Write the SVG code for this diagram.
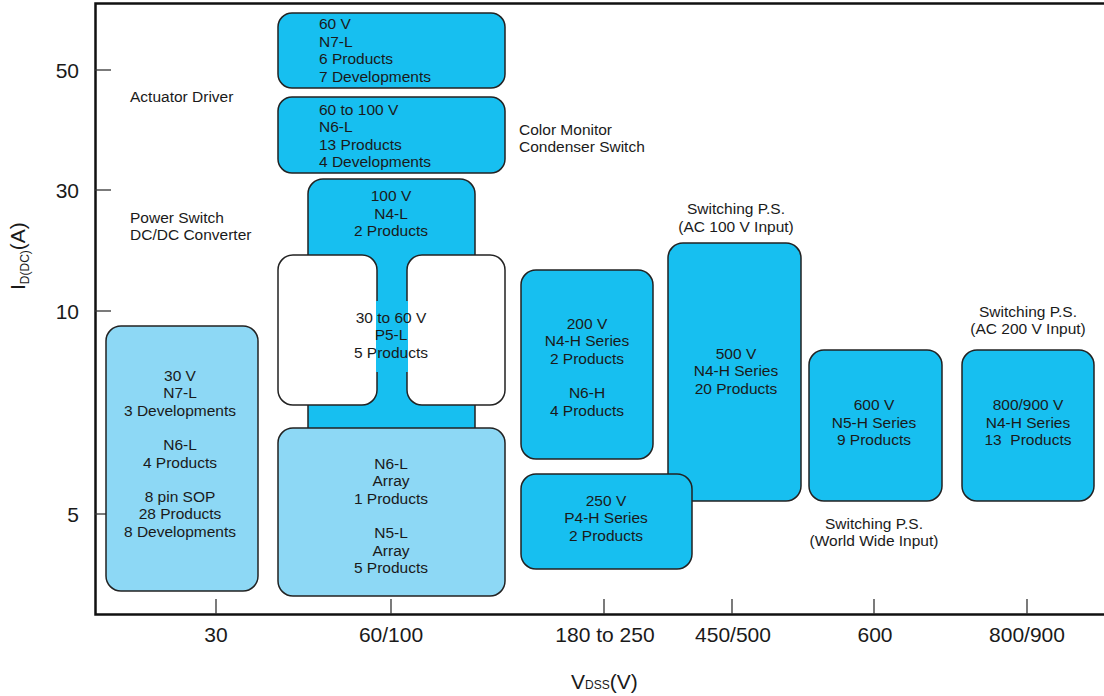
<svg xmlns="http://www.w3.org/2000/svg" width="1104" height="696" viewBox="0 0 1104 696">
<style>
text{font-family:"Liberation Sans",Arial,sans-serif;fill:#1a1a1a}
.t{font-size:15.5px}
.c{text-anchor:middle}
.ax{font-size:21px;text-anchor:middle}
.ay{font-size:21px;text-anchor:end}
.box{stroke:#222;stroke-width:1.5}
.cy{fill:#17bff0}
.lb{fill:#8dd8f5}
.wh{fill:#fff}
.frame{stroke:#111;stroke-width:2.5;fill:none}
.tick{stroke:#333;stroke-width:1.3}
</style>
<rect width="1104" height="696" fill="#fff"/>
<g id="axes">
<polyline class="frame" points="1104,3.5 95.5,3.5 95.5,614.5 1104,614.5"/>
<line class="tick" x1="95" y1="70" x2="111" y2="70"/>
<line class="tick" x1="95" y1="190" x2="111" y2="190"/>
<line class="tick" x1="95" y1="311" x2="111" y2="311"/>
<line class="tick" x1="95" y1="514" x2="111" y2="514"/>
<line class="tick" x1="216" y1="599" x2="216" y2="614"/>
<line class="tick" x1="391" y1="599" x2="391" y2="614"/>
<line class="tick" x1="604" y1="599" x2="604" y2="614"/>
<line class="tick" x1="732" y1="599" x2="732" y2="614"/>
<line class="tick" x1="874" y1="599" x2="874" y2="614"/>
<line class="tick" x1="1027" y1="599" x2="1027" y2="614"/>
<text class="ay" x="79" y="78">50</text>
<text class="ay" x="79" y="198">30</text>
<text class="ay" x="79" y="319">10</text>
<text class="ay" x="79" y="522">5</text>
<text class="ax" x="216" y="642">30</text>
<text class="ax" x="391" y="642">60/100</text>
<text class="ax" x="605" y="642">180 to 250</text>
<text class="ax" x="733" y="642">450/500</text>
<text class="ax" x="875" y="642">600</text>
<text class="ax" x="1027" y="642">800/900</text>
<text x="571" y="689" style="font-size:21px">V<tspan style="font-size:12px">DSS</tspan>(V)</text>
<text transform="translate(25,290) rotate(-90)" style="font-size:21px">I<tspan dy="4" style="font-size:12px">D(DC)</tspan><tspan dy="-4">(A)</tspan></text>
</g>
<g id="labels" class="t">
<text x="130" y="101.7">Actuator Driver</text>
<text x="130" y="222.5">Power Switch</text>
<text x="130" y="240">DC/DC Converter</text>
<text x="519" y="134.5">Color Monitor</text>
<text x="519" y="152">Condenser Switch</text>
<text class="c" x="736" y="214">Switching P.S.</text>
<text class="c" x="736" y="231.5">(AC 100 V Input)</text>
<text class="c" x="1028" y="316.5">Switching P.S.</text>
<text class="c" x="1028" y="334">(AC 200 V Input)</text>
<text class="c" x="874" y="528.7">Switching P.S.</text>
<text class="c" x="874" y="546">(World Wide Input)</text>
</g>
<g id="n4l">
<rect class="box cy" x="308" y="179" width="167" height="270" rx="15"/>
<text class="t c" x="391" y="201">100 V</text>
<text class="t c" x="391" y="218.5">N4-L</text>
<text class="t c" x="391" y="236">2 Products</text>
</g>
<g id="p5l">
<rect class="box wh" x="278" y="255" width="99" height="150" rx="15"/>
<rect class="box wh" x="407" y="255" width="98" height="150" rx="15"/>
<rect class="cy" x="376" y="301" width="32" height="71"/>
<text class="t c" x="391" y="322.5">30 to 60 V</text>
<text class="t c" x="391" y="340">P5-L</text>
<text class="t c" x="391" y="357.5">5 Products</text>
</g>
<g id="n6l-array">
<rect class="box lb" x="278" y="428" width="227" height="168" rx="15"/>
<text class="t c" x="391" y="468.5">N6-L</text>
<text class="t c" x="391" y="486">Array</text>
<text class="t c" x="391" y="503.5">1 Products</text>
<text class="t c" x="391" y="538">N5-L</text>
<text class="t c" x="391" y="555.5">Array</text>
<text class="t c" x="391" y="573">5 Products</text>
</g>
<g id="n7l-60">
<rect class="box cy" x="278" y="13" width="227" height="75" rx="14"/>
<text class="t" x="319" y="29">60 V</text>
<text class="t" x="319" y="46.5">N7-L</text>
<text class="t" x="319" y="64">6 Products</text>
<text class="t" x="319" y="81.5">7 Developments</text>
</g>
<g id="n6l-60-100">
<rect class="box cy" x="278" y="97" width="227" height="76" rx="14"/>
<text class="t" x="319" y="114.5">60 to 100 V</text>
<text class="t" x="319" y="132">N6-L</text>
<text class="t" x="319" y="149.5">13 Products</text>
<text class="t" x="319" y="167">4 Developments</text>
</g>
<g id="v30">
<rect class="box lb" x="106" y="326" width="152" height="265" rx="15"/>
<text class="t c" x="180" y="381">30 V</text>
<text class="t c" x="180" y="398.3">N7-L</text>
<text class="t c" x="180" y="415.6">3 Developments</text>
<text class="t c" x="180" y="450.2">N6-L</text>
<text class="t c" x="180" y="467.5">4 Products</text>
<text class="t c" x="180" y="502.1">8 pin SOP</text>
<text class="t c" x="180" y="519.4">28 Products</text>
<text class="t c" x="180" y="536.7">8 Developments</text>
</g>
<g id="v200">
<rect class="box cy" x="521" y="270" width="132" height="189" rx="15"/>
<text class="t c" x="587" y="328.5">200 V</text>
<text class="t c" x="587" y="346">N4-H Series</text>
<text class="t c" x="587" y="363.5">2 Products</text>
<text class="t c" x="587" y="398">N6-H</text>
<text class="t c" x="587" y="415.5">4 Products</text>
</g>
<g id="v500">
<rect class="box cy" x="668" y="243" width="133" height="258" rx="15"/>
<text class="t c" x="736" y="358.5">500 V</text>
<text class="t c" x="736" y="376">N4-H Series</text>
<text class="t c" x="736" y="393.5">20 Products</text>
</g>
<g id="v250">
<rect class="box cy" x="521" y="474" width="171" height="95" rx="15"/>
<text class="t c" x="606" y="505.7">250 V</text>
<text class="t c" x="606" y="523.2">P4-H Series</text>
<text class="t c" x="606" y="540.7">2 Products</text>
</g>
<g id="v600">
<rect class="box cy" x="809" y="350" width="133" height="151" rx="15"/>
<text class="t c" x="874" y="410">600 V</text>
<text class="t c" x="874" y="427.5">N5-H Series</text>
<text class="t c" x="874" y="445">9 Products</text>
</g>
<g id="v800">
<rect class="box cy" x="962" y="350" width="132" height="151" rx="15"/>
<text class="t c" x="1028" y="410">800/900 V</text>
<text class="t c" x="1028" y="427.5">N4-H Series</text>
<text class="t c" x="1028" y="445" style="white-space:pre">13  Products</text>
</g>
<g id="connectors"/>
</svg>
